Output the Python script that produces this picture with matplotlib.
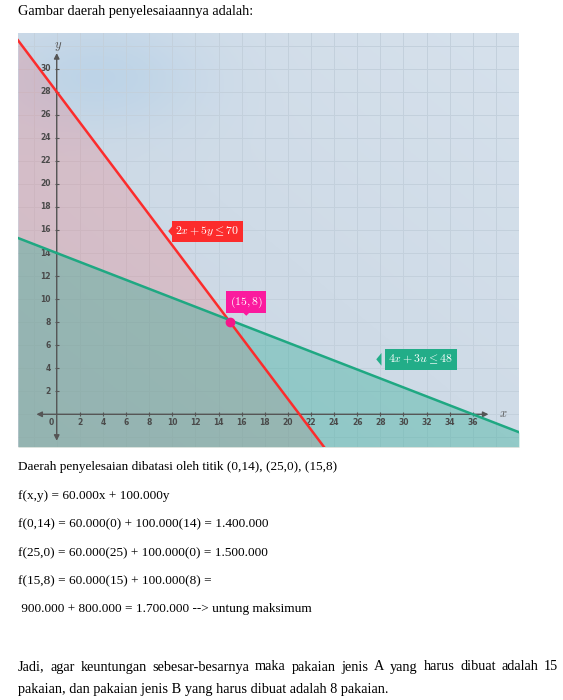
import numpy as np
import matplotlib
matplotlib.use("Agg")
import matplotlib.pyplot as plt
from matplotlib.patches import Polygon

# garis batas (titik potong sumbu x, titik potong sumbu y) seperti terbaca di gambar
red_line = (21, 28)
green_line = (36, 14)
red_label = r"$2x + 5y \leq 70$"
green_label = r"$4x + 3u \leq 48$"
titik = (15, 8)
titik_label = r"$(15, 8)$"
x_ticks = list(range(0, 37, 2))
y_ticks = list(range(2, 31, 2))

judul = "Gambar daerah penyelesaiaannya adalah:"
baris = [
    "Daerah penyelesaian dibatasi oleh titik (0,14), (25,0), (15,8)",
    "f(x,y) = 60.000x + 100.000y",
    "f(0,14) = 60.000(0) + 100.000(14) = 1.400.000",
    "f(25,0) = 60.000(25) + 100.000(0) = 1.500.000",
    "f(15,8) = 60.000(15) + 100.000(8) =",
    " 900.000 + 800.000 = 1.700.000 --> untung maksimum",
]
kesimpulan = ["Jadi, agar keuntungan sebesar-besarnya maka pakaian jenis A yang harus dibuat adalah 15",
              "pakaian, dan pakaian jenis B yang harus dibuat adalah 8 pakaian."]

plt.rcParams["mathtext.fontset"] = "cm"
W, H = 563, 700
fig = plt.figure(figsize=(W / 100, H / 100), dpi=100)
fig.patch.set_facecolor("white")

def px(x0, y0, x1, y1):
    return [x0 / W, 1 - y1 / H, (x1 - x0) / W, (y1 - y0) / H]

ax = fig.add_axes(px(18, 33, 519, 447))
xmin, xmax, ymin, ymax = -3.35, 40.0, -2.84, 33.1
ax.set_xlim(xmin, xmax)
ax.set_ylim(ymin, ymax)
ax.axis("off")

# latar gradasi
gx = np.linspace(0, 1, 200)
gy = np.linspace(0, 1, 200)
GX, GY = np.meshgrid(gx, gy)
blob = np.exp(-(((GX - 0.17) / 0.2) ** 2 + ((GY - 0.9) / 0.13) ** 2))
t = 0.5 * GX + 0.5 * GY
c0 = np.array([200, 213, 226]) / 255
c1 = np.array([214, 225, 236]) / 255
img = c0 + (c1 - c0) * t[..., None]
img = img + np.array([-0.07, -0.03, 0.0]) * blob[..., None]
ax.imshow(np.clip(img, 0, 1), extent=(xmin, xmax, ymin, ymax), origin="lower",
          aspect="auto", zorder=0)

# grid
for v in np.arange(-2, 41, 2):
    ax.axvline(v, color="#c3d0dc", lw=0.7, zorder=1)
for v in np.arange(-2, 34, 2):
    ax.axhline(v, color="#c3d0dc", lw=0.7, zorder=1)

xs = np.linspace(xmin, xmax, 400)
def garis(ln, x):
    a, b = ln
    return b - b / a * x

ax.fill_between(xs, ymin, garis(red_line, xs), color="#ff3a3a", alpha=0.17, lw=0, zorder=2)
ax.fill_between(xs, ymin, garis(green_line, xs), color="#1aa88a", alpha=0.33, lw=0, zorder=2)

# sumbu
ax.annotate("", xy=(0, 31.6), xytext=(0, ymin + 0.3),
            arrowprops=dict(arrowstyle="<|-|>", color="#555555", lw=1.0,
                            mutation_scale=8), zorder=3)
ax.annotate("", xy=(37.6, 0), xytext=(-2.0, 0),
            arrowprops=dict(arrowstyle="<|-|>", color="#555555", lw=1.0,
                            mutation_scale=8), zorder=3)
ax.plot(x_ticks[1:], [0] * len(x_ticks[1:]), "|", color="#555555", ms=3, mew=0.8, zorder=3)
ax.plot([0] * len(y_ticks), y_ticks, "_", color="#555555", ms=3, mew=0.8, zorder=3)
for v in x_ticks:
    ax.text(v - (0.45 if v == 0 else 0), -0.75, str(v), ha="center", va="center",
            fontsize=5.5, color="#4a4a4a", fontweight="bold", zorder=4)
for v in y_ticks:
    ax.text(-0.5, v, str(v), ha="right", va="center",
            fontsize=5.5, color="#4a4a4a", fontweight="bold", zorder=4)
ax.text(0.15, 31.9, r"$y$", fontsize=9, color="#555555", ha="center", va="center")
ax.text(38.6, 0.05, r"$x$", fontsize=9, color="#555555", ha="center", va="center")

# garis batas
ax.plot(xs, garis(red_line, xs), color="#fc2c2c", lw=1.8, zorder=5)
ax.plot(xs, garis(green_line, xs), color="#1fa882", lw=1.8, zorder=5)
ax.plot(*titik, "o", color="#f5168a", ms=6, zorder=6)

def label(x, y, s, warna):
    return ax.text(x, y, s, ha="center", va="center", fontsize=8.5, color="white", zorder=8,
                   bbox=dict(boxstyle="square,pad=0.3", fc=warna, ec="none"))

label(13.05, 15.9, red_label, "#fc2c2c")
ax.add_patch(Polygon([[10.1, 16.45], [10.1, 15.35], [9.65, 15.9]], closed=True,
                     fc="#fc2c2c", ec="none", zorder=8))
label(31.5, 4.77, green_label, "#22ad88")
ax.add_patch(Polygon([[28.1, 5.32], [28.1, 4.22], [27.65, 4.77]], closed=True,
                     fc="#22ad88", ec="none", zorder=8))
label(16.4, 9.75, titik_label, "#fb1a9e")
ax.add_patch(Polygon([[16.0, 8.95], [16.8, 8.95], [16.4, 8.55]], closed=True,
                     fc="#fb1a9e", ec="none", zorder=8))

# teks
font = dict(family="Liberation Serif", fontsize=9.5, color="black")
font_besar = dict(font, fontsize=10.3)
fig.text(18 / W, 1 - 12 / H, judul, va="center", **font_besar)
ys = [467, 496, 524, 553, 581, 609]
for y, s in zip(ys, baris):
    fig.text(18 / W, 1 - y / H, s, va="center", **font)

# baris rata kanan-kiri (lebar dihitung dalam satuan figure)
kata = kesimpulan[0].split(" ")
objs = [fig.text(0, 1 - 667 / H, k, va="center", **font_besar) for k in kata]
fig.canvas.draw()
inv = fig.transFigure.inverted()
lebar = [inv.transform_bbox(o.get_window_extent()).width for o in objs]
kiri, kanan = 18 / W, 558 / W
sela = (kanan - kiri - sum(lebar)) / (len(kata) - 1)
x = kiri
for o, w in zip(objs, lebar):
    o.set_x(x)
    x += w + sela
fig.text(18 / W, 1 - 689 / H, kesimpulan[1], va="center", **font_besar)

fig.savefig("out.png", dpi=100)
